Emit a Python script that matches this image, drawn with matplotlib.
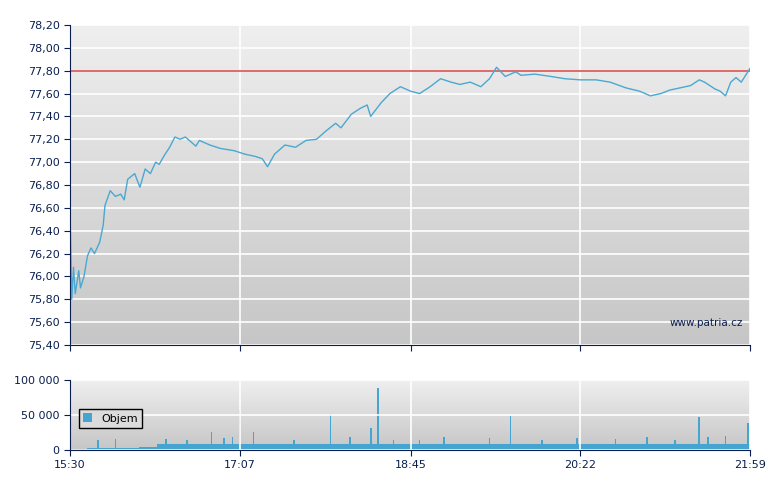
import numpy as np
import matplotlib.pyplot as plt
from matplotlib.colors import LinearSegmentedColormap

# price: (minute after 15:30, price)
p_min = [0, 1, 2, 3, 5, 6, 8, 10, 12, 14, 17, 19, 20, 23, 26, 29, 31, 33, 37, 40, 43, 46, 49, 51, 54, 57,
         60, 63, 66, 69, 72, 74, 80, 86, 94, 100, 106, 110, 113, 117, 123, 129, 135, 141, 147, 152, 155,
         161, 166, 170, 172, 178, 183, 189, 195, 200, 206, 212, 218, 223, 229, 235, 240, 244, 249, 255,
         258, 266, 275, 283, 292, 301, 309, 318, 326, 332, 338, 343, 349, 355, 360, 363, 366, 369, 372,
         375, 378, 381, 384, 389]
p_val = [76.60, 75.80, 76.08, 75.85, 76.05, 75.90, 76.00, 76.18, 76.25, 76.20, 76.30, 76.45, 76.62, 76.75,
         76.70, 76.72, 76.67, 76.85, 76.90, 76.78, 76.94, 76.90, 77.00, 76.98, 77.06, 77.13, 77.22, 77.20,
         77.22, 77.18, 77.14, 77.19, 77.15, 77.12, 77.10, 77.07, 77.05, 77.03, 76.96, 77.07, 77.15, 77.13,
         77.19, 77.20, 77.28, 77.34, 77.30, 77.42, 77.47, 77.50, 77.40, 77.52, 77.60, 77.66, 77.62, 77.60,
         77.66, 77.73, 77.70, 77.68, 77.70, 77.66, 77.73, 77.83, 77.75, 77.79, 77.76, 77.77, 77.75, 77.73,
         77.72, 77.72, 77.70, 77.65, 77.62, 77.58, 77.60, 77.63, 77.65, 77.67, 77.72, 77.70, 77.67, 77.64,
         77.62, 77.58, 77.70, 77.74, 77.70, 77.82]
ref_price = 77.80

# volume: baseline per 10-minute block, plus spikes
vol_base = [1500, 2500, 3000, 3500, 4000, 8000, 8000, 8000, 8000, 8000, 8000, 8000, 8000, 8000, 8000, 8000,
            8000, 8000, 8000, 8000, 8000, 8000, 8000, 8000, 8000, 8000, 8000, 8000, 8000, 8000, 8000, 8000,
            8000, 8000, 8000, 8000, 8000, 8000, 8000]
spike_min = [16, 26, 55, 67, 81, 88, 93, 97, 105, 128, 149, 160, 172, 176, 185, 200, 214, 240, 252,
             270, 290, 312, 330, 346, 360, 365, 375, 388]
spike_val = [15000, 16000, 16000, 15000, 26000, 17000, 18000, 57000, 26000, 15000, 52000, 18000, 32000,
             88000, 15000, 14000, 18000, 17000, 48000, 15000, 17000, 16000, 18000, 15000, 47000, 18000,
             20000, 38000]

xticks = [0, 97, 195, 292, 389]
xlabels = ["15:30", "17:07", "18:45", "20:22", "21:59"]
navy = "#0a1f4f"

vol = np.repeat(vol_base, 10)[:390].astype(float)
for m, v in zip(spike_min, spike_val):
    vol[m] = v

fig = plt.figure(figsize=(7.8, 4.9), dpi=100)
ax = fig.add_axes([70/780, 1-345/490, 680/780, 320/490])
ax2 = fig.add_axes([70/780, 1-450/490, 680/780, 70/490])

grad = np.linspace(0, 1, 256).reshape(-1, 1)
cm = LinearSegmentedColormap.from_list("g", ["#efefef", "#c6c6c6"])
for a, ylim in [(ax, (75.4, 78.2)), (ax2, (0, 100000))]:
    a.imshow(grad, aspect="auto", cmap=cm, extent=[0, 389, ylim[0], ylim[1]], zorder=0)
    a.set_xlim(0, 389)
    a.set_ylim(*ylim)
    a.grid(True, color="white", lw=1.2, zorder=1)
    a.set_axisbelow(False)
    for s in ["top", "right"]:
        a.spines[s].set_visible(False)
    for s in ["left", "bottom"]:
        a.spines[s].set_color(navy)
        a.spines[s].set_zorder(6)
    a.tick_params(colors=navy, labelsize=8, length=4, direction="out")
    a.set_xticks(xticks)

ax.plot(p_min, p_val, color="#4aa8d2", lw=1, zorder=4)
ax.axhline(ref_price, color="#e06a6a", lw=1.4, zorder=3)
yt = np.arange(75.4, 78.21, 0.2)
ax.set_yticks(yt)
ax.set_yticklabels([f"{v:.2f}".replace(".", ",") for v in yt])
ax.set_xticklabels([])
ax.text(0.99, 0.06, "www.patria.cz", transform=ax.transAxes, ha="right", color=navy, fontsize=7.5)

ax2.bar(np.arange(390), vol, width=1, color="#45a5d0", zorder=2, label="Objem")
ax2.set_yticks([0, 50000, 100000])
ax2.set_yticklabels(["0", "50 000", "100 000"])
ax2.set_xticklabels(xlabels)
ax2.legend(loc="center left", bbox_to_anchor=(0.005, 0.45), fontsize=8, handlelength=0.8,
           handleheight=0.8, fancybox=False, edgecolor="black", facecolor="#dcdcdc", framealpha=1)

fig.savefig("out.png", dpi=100)
